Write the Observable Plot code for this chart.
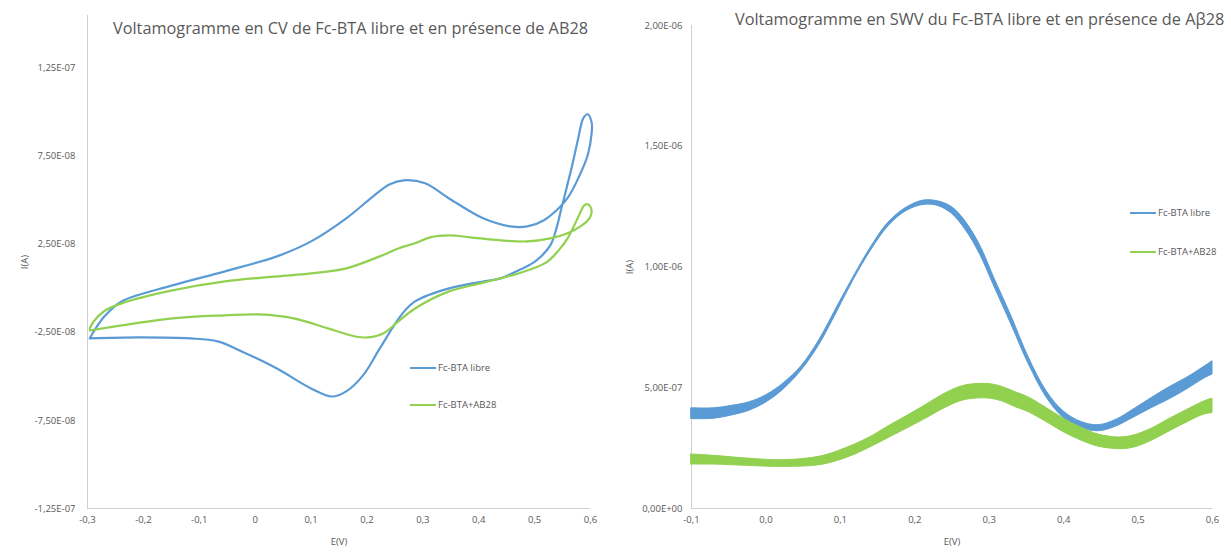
<!DOCTYPE html>
<html><head><meta charset="utf-8">
<script src="https://cdn.jsdelivr.net/npm/d3@7"></script>
<script src="https://cdn.jsdelivr.net/npm/@observablehq/plot@0.6"></script>
<style>
body{margin:0;background:#fff;font-family:"Open Sans",sans-serif;}
#wrap{position:relative;width:1231px;height:552px;overflow:hidden;background:#fff;}
.chart{position:absolute;top:0;}
.title{position:absolute;white-space:nowrap;color:#595959;font-size:16.3px;line-height:20px;}
.leg{position:absolute;white-space:nowrap;color:#595959;font-size:9.5px;line-height:12px;display:flex;align-items:center;}
.leg svg{margin-right:2px;}
</style>
</head><body>
<div id="wrap"></div>
<script>
// ---- CV data (left chart) ----
const cvFreeE = [-0.296,-0.209,-0.115,-0.067,-0.024,0.039,0.100,0.137,0.163,0.193,0.223,0.261,0.286,0.347,0.410,0.439,0.471,0.501,0.528,0.539,0.548,0.557,0.568,0.578,0.587,0.595,0.602,0.602,0.595,0.578,0.561,0.543,0.516,0.487,0.457,0.408,0.347,0.304,0.266,0.240,0.210,0.163,0.100,0.039,-0.054,-0.148,-0.239,-0.270,-0.291,-0.296];
const cvFreeI = [-2.84e-8,-2.78e-8,-2.84e-8,-3.01e-8,-3.58e-8,-4.55e-8,-5.68e-8,-6.14e-8,-5.85e-8,-4.94e-8,-3.41e-8,-1.53e-8,-0.74e-8,0,0.40e-8,0.57e-8,1.02e-8,1.53e-8,2.44e-8,3.41e-8,4.55e-8,5.68e-8,7.10e-8,8.52e-8,9.66e-8,9.89e-8,9.43e-8,8.80e-8,7.56e-8,6.25e-8,5.23e-8,4.55e-8,3.86e-8,3.52e-8,3.52e-8,3.98e-8,5.11e-8,5.97e-8,6.14e-8,5.90e-8,5.20e-8,3.98e-8,2.67e-8,1.82e-8,0.97e-8,0.17e-8,-0.74e-8,-1.60e-8,-2.56e-8,-2.84e-8];
const cvAbE = [-0.296,-0.148,-0.054,0.008,0.069,0.130,0.179,0.202,0.229,0.256,0.286,0.347,0.410,0.471,0.521,0.543,0.559,0.577,0.589,0.596,0.602,0.598,0.582,0.559,0.528,0.487,0.439,0.385,0.347,0.313,0.286,0.256,0.223,0.163,0.100,0.039,-0.054,-0.148,-0.239,-0.271,-0.289,-0.296];
const cvAbI = [-2.39e-8,-1.70e-8,-1.53e-8,-1.48e-8,-1.70e-8,-2.27e-8,-2.73e-8,-2.78e-8,-2.56e-8,-1.88e-8,-1.14e-8,-0.17e-8,0.34e-8,0.85e-8,1.48e-8,2.16e-8,2.84e-8,3.98e-8,4.72e-8,4.77e-8,4.43e-8,3.98e-8,3.52e-8,3.13e-8,2.84e-8,2.67e-8,2.73e-8,2.90e-8,3.01e-8,2.90e-8,2.56e-8,2.27e-8,1.82e-8,1.14e-8,0.85e-8,0.68e-8,0.40e-8,-0.11e-8,-0.85e-8,-1.31e-8,-1.88e-8,-2.27e-8];
const cvXTicks = [-0.3,-0.2,-0.1,0,0.1,0.2,0.3,0.4,0.5,0.6];
const cvXLabels = ["-0,3","-0,2","-0,1","0","0,1","0,2","0,3","0,4","0,5","0,6"];
const cvYTicks = [-1.25e-7,-7.5e-8,-2.5e-8,2.5e-8,7.5e-8,1.25e-7];
const cvYLabels = ["-1,25E-07","-7,50E-08","-2,50E-08","2,50E-08","7,50E-08","1,25E-07"];
const cvXDomain = [-0.3, 0.6];
const cvYDomain = [-1.25e-7, 1.55e-7];

// ---- SWV data (right chart) ----
const swvFreeE = [-0.1,-0.069,-0.046,-0.022,0.001,0.0245,0.048,0.0715,0.095,0.118,0.142,0.165,0.189,0.212,0.231,0.250,0.269,0.288,0.306,0.330,0.353,0.377,0.400,0.424,0.447,0.471,0.494,0.518,0.541,0.565,0.588,0.6];
const swvFreeLo = [3.7e-7,3.72e-7,3.85e-7,4.05e-7,4.4e-7,4.95e-7,5.72e-7,6.76e-7,8.1e-7,9.47e-7,10.72e-7,11.7e-7,12.32e-7,12.57e-7,12.53e-7,12.2e-7,11.5e-7,10.5e-7,9.25e-7,7.6e-7,5.98e-7,4.6e-7,3.75e-7,3.33e-7,3.2e-7,3.4e-7,3.76e-7,4.15e-7,4.5e-7,4.92e-7,5.36e-7,5.55e-7];
const swvFreeHi = [4.15e-7,4.15e-7,4.25e-7,4.4e-7,4.7e-7,5.2e-7,5.9e-7,6.96e-7,8.3e-7,9.6e-7,10.86e-7,11.85e-7,12.46e-7,12.75e-7,12.72e-7,12.48e-7,11.85e-7,10.88e-7,9.6e-7,7.95e-7,6.26e-7,4.86e-7,4.02e-7,3.58e-7,3.45e-7,3.68e-7,4.1e-7,4.57e-7,5.0e-7,5.4e-7,5.85e-7,6.1e-7];
const swvAbE = [-0.1,-0.069,-0.022,0.0245,0.0715,0.095,0.118,0.142,0.165,0.189,0.212,0.231,0.250,0.269,0.297,0.316,0.335,0.353,0.377,0.400,0.424,0.447,0.475,0.494,0.518,0.541,0.565,0.588,0.6];
const swvAbLo = [1.82e-7,1.82e-7,1.76e-7,1.72e-7,1.79e-7,1.96e-7,2.21e-7,2.56e-7,2.92e-7,3.3e-7,3.67e-7,4.0e-7,4.3e-7,4.5e-7,4.56e-7,4.45e-7,4.2e-7,3.99e-7,3.58e-7,3.16e-7,2.81e-7,2.56e-7,2.46e-7,2.52e-7,2.8e-7,3.17e-7,3.55e-7,3.88e-7,3.95e-7];
const swvAbHi = [2.24e-7,2.18e-7,2.06e-7,2.0e-7,2.14e-7,2.35e-7,2.63e-7,2.98e-7,3.41e-7,3.82e-7,4.23e-7,4.59e-7,4.9e-7,5.1e-7,5.16e-7,5.05e-7,4.82e-7,4.6e-7,4.16e-7,3.72e-7,3.34e-7,3.06e-7,2.94e-7,3.02e-7,3.3e-7,3.69e-7,4.07e-7,4.42e-7,4.55e-7];
const swvXTicks = [-0.1,0,0.1,0.2,0.3,0.4,0.5,0.6];
const swvXLabels = ["-0,1","0,0","0,1","0,2","0,3","0,4","0,5","0,6"];
const swvYTicks = [0,5e-7,1e-6,1.5e-6,2e-6];
const swvYLabels = ["0,00E+00","5,00E-07","1,00E-06","1,50E-06","2,00E-06"];
const swvXDomain = [-0.1, 0.6];
const swvYDomain = [0, 2e-6];

const seriesNames = ["Fc-BTA libre", "Fc-BTA+AB28"];
const colors = ["#5b9bd5", "#92d050"];
const titles = ["Voltamogramme en CV de Fc-BTA libre et en présence de AB28",
                "Voltamogramme en SWV du Fc-BTA libre et en présence de Aβ28"];

const AXIS = "#d0d0d0";
const fmtFrom = (ticks, labels) => { const m = new Map(ticks.map((t,i)=>[t, labels[i]])); return d => m.get(d); };
const style = {fontFamily:"Open Sans", fontSize:"9.5px", color:"#595959", background:"transparent", overflow:"visible"};

const cvFree = cvFreeE.map((e,i)=>({E:e, I:cvFreeI[i]}));
const cvAb = cvAbE.map((e,i)=>({E:e, I:cvAbI[i]}));
const swvFree = swvFreeE.map((e,i)=>({E:e, lo:swvFreeLo[i], hi:swvFreeHi[i]}));
const swvAb = swvAbE.map((e,i)=>({E:e, lo:swvAbLo[i], hi:swvAbHi[i]}));

const wrap = document.getElementById("wrap");

const left = Plot.plot({
  width: 615, height: 552,
  marginLeft: 87, marginRight: 25, marginTop: 15, marginBottom: 44,
  style,
  x: {domain: cvXDomain},
  y: {domain: cvYDomain},
  marks: [
    Plot.ruleX([cvXDomain[0]], {stroke: AXIS}),
    Plot.ruleY([cvYDomain[0]], {stroke: AXIS}),
    Plot.axisX({ticks: cvXTicks, tickFormat: fmtFrom(cvXTicks, cvXLabels), tickSize: 0, tickPadding: 8,
      label: "E(V)", labelAnchor: "center", labelArrow: "none", labelOffset: 36}),
    Plot.axisY({ticks: cvYTicks, tickFormat: fmtFrom(cvYTicks, cvYLabels), tickSize: 0, tickPadding: 12,
      label: "I(A)", labelAnchor: "center", labelArrow: "none", labelOffset: 66}),
    Plot.line(cvFree, {x: "E", y: "I", stroke: colors[0], strokeWidth: 2.2, curve: "catmull-rom"}),
    Plot.line(cvAb, {x: "E", y: "I", stroke: colors[1], strokeWidth: 2.2, curve: "catmull-rom"})
  ]
});
left.classList.add("chart"); left.style.left = "0px";
wrap.appendChild(left);

const right = Plot.plot({
  width: 616, height: 552,
  marginLeft: 76, marginRight: 19, marginTop: 25, marginBottom: 44,
  style,
  x: {domain: swvXDomain},
  y: {domain: swvYDomain},
  marks: [
    Plot.ruleX([swvXDomain[0]], {stroke: AXIS}),
    Plot.ruleY([swvYDomain[0]], {stroke: AXIS}),
    Plot.axisX({ticks: swvXTicks, tickFormat: fmtFrom(swvXTicks, swvXLabels), tickSize: 0, tickPadding: 8,
      label: "E(V)", labelAnchor: "center", labelArrow: "none", labelOffset: 36}),
    Plot.axisY({ticks: swvYTicks, tickFormat: fmtFrom(swvYTicks, swvYLabels), tickSize: 0, tickPadding: 9,
      label: "I(A)", labelAnchor: "center", labelArrow: "none", labelOffset: 65}),
    Plot.areaY(swvFree, {x: "E", y1: "lo", y2: "hi", fill: colors[0], stroke: colors[0], strokeWidth: 1, curve: "catmull-rom"}),
    Plot.areaY(swvAb, {x: "E", y1: "lo", y2: "hi", fill: colors[1], stroke: colors[1], strokeWidth: 1, curve: "catmull-rom"})
  ]
});
right.classList.add("chart"); right.style.left = "615px";
wrap.appendChild(right);

function addTitle(text, x, y) {
  const d = document.createElement("div");
  d.className = "title"; d.textContent = text;
  d.style.left = x + "px"; d.style.top = y + "px";
  wrap.appendChild(d);
}
addTitle(titles[0], 113, 18);
addTitle(titles[1], 735, 9);

function addLegend(x, y, i) {
  const d = document.createElement("div");
  d.className = "leg";
  d.style.left = x + "px"; d.style.top = (y - 6) + "px";
  d.innerHTML = `<svg width="26" height="4"><line x1="0" y1="2" x2="26" y2="2" stroke="${colors[i]}" stroke-width="2"/></svg>`;
  d.appendChild(document.createTextNode(seriesNames[i]));
  wrap.appendChild(d);
}
addLegend(410, 368, 0);
addLegend(410, 405, 1);
addLegend(1130, 213, 0);
addLegend(1130, 252, 1);
</script>
</body></html>
